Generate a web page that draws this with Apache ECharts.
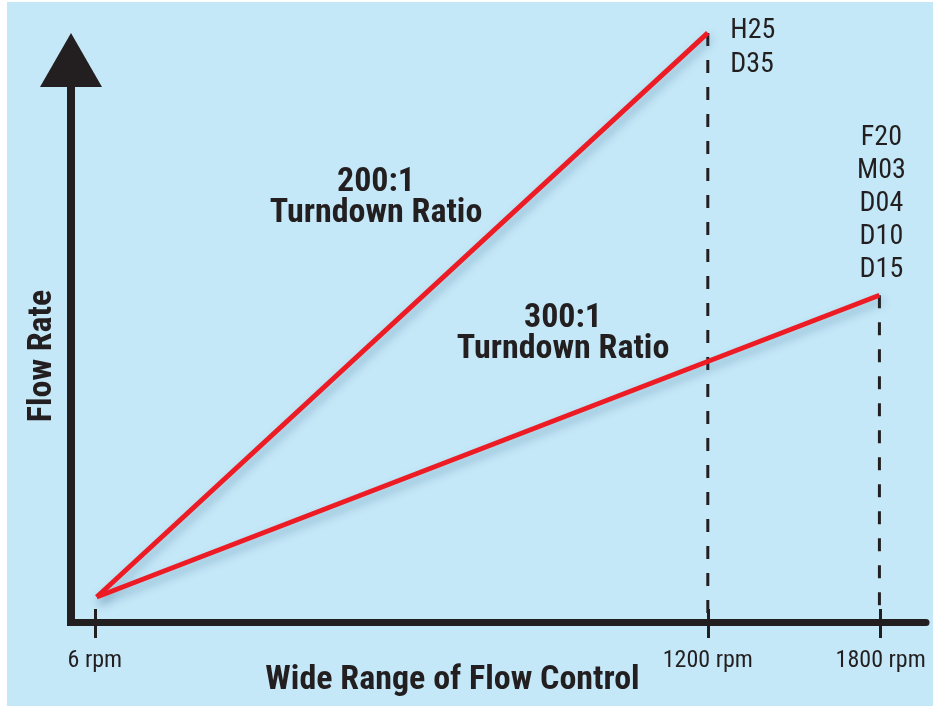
<!DOCTYPE html>
<html>
<head>
<meta charset="utf-8">
<title>Wide Range of Flow Control</title>
<script src="https://cdn.jsdelivr.net/npm/echarts@6/dist/echarts.min.js"></script>
<style>
  html, body { margin: 0; padding: 0; background: #fff; }
  #chart { width: 933px; height: 706px; }
</style>
</head>
<body>
<div id="chart"></div>
<script>
// schematic positions along the speed axis (6 rpm = 0, 1200 rpm = 100)
const tickValues = [0, 100, 128.2];
const tickLabels = ['6 rpm', '1200 rpm', '1800 rpm'];

// flow rate in relative units (200:1 line top = 100)
const ratio200 = [[0.3, 0], [100, 100]];
const ratio300 = [[0.3, 0], [128, 53.5]];

const models200 = ['H25', 'D35'];
const models300 = ['F20', 'M03', 'D04', 'D10', 'D15'];

const xMin = -3.9, xMax = 135.6;
const yMin = -4.43, yMax = 95.2;

const ink = '#231f20';
const red = '#ed1c24';
const font = "'Liberation Sans Narrow', 'Arial Narrow', 'Roboto Condensed', 'Liberation Sans', sans-serif";

const chart = echarts.init(document.getElementById('chart'));

const redLine = (name, data, models, labelOpt) => ({
  name: name,
  type: 'line',
  data: data.map((d, i) => i === data.length - 1
    ? { value: d, label: Object.assign({ show: true, formatter: models.join('\n') }, labelOpt) }
    : d),
  clip: false,
  symbol: 'circle',
  symbolSize: 1,
  showSymbol: true,
  itemStyle: { color: 'rgba(0,0,0,0)' },
  z: 5,
  lineStyle: {
    color: red, width: 5,
    shadowColor: 'rgba(30, 80, 120, 0.35)', shadowBlur: 10, shadowOffsetX: 3, shadowOffsetY: 5
  },
  label: { show: false, fontFamily: font, fontSize: 28, color: ink }
});

const dropLine = (pt) => ({
  type: 'line',
  data: [pt, [pt[0], yMin]],
  symbol: 'none',
  clip: false,
  silent: true,
  z: 4,
  lineStyle: { color: ink, width: 3, type: [13, 14] }
});

chart.setOption({
  backgroundColor: '#ffffff',
  animation: false,
  graphic: [
    { type: 'rect', left: 7, top: 2, z: -10, shape: { width: 926, height: 704 }, style: { fill: '#c5e8f8' } },
    {
      type: 'text', z: 10,
      style: {
        x: 376, y: 167, text: '200:1\nTurndown Ratio', align: 'center',
        font: 'bold 34px ' + font, lineHeight: 31, fill: ink
      }
    },
    {
      type: 'text', z: 10,
      style: {
        x: 563, y: 303, text: '300:1\nTurndown Ratio', align: 'center',
        font: 'bold 34px ' + font, lineHeight: 31, fill: ink
      }
    }
  ],
  grid: { left: 71, right: 7, top: 60, bottom: 84, outerBoundsMode: 'none' },
  xAxis: [
    {
      type: 'value', min: xMin, max: xMax,
      name: 'Wide Range of Flow Control',
      nameLocation: 'middle', nameGap: 41, nameMoveOverlap: false,
      nameTextStyle: { fontFamily: font, fontWeight: 'bold', fontSize: 34, color: ink, padding: [0, 92, 0, 0] },
      splitLine: { show: false },
      axisLine: { onZero: false, lineStyle: { color: ink, width: 7 } },
      axisTick: { customValues: tickValues, length: 16, lineStyle: { color: ink, width: 3 } },
      axisLabel: {
        customValues: tickValues, margin: 27,
        fontFamily: font, fontSize: 24, color: ink,
        formatter: (v) => tickLabels[tickValues.findIndex(t => Math.abs(t - v) < 1e-6)] || ''
      }
    },
    {
      type: 'value', min: xMin, max: xMax, position: 'bottom',
      splitLine: { show: false },
      axisLine: { show: false, onZero: false },
      axisTick: { customValues: tickValues, inside: true, length: 13, lineStyle: { color: ink, width: 3 } },
      axisLabel: { show: false }
    }
  ],
  yAxis: {
    type: 'value', min: yMin, max: yMax,
    name: 'Flow Rate',
    nameLocation: 'middle', nameGap: 12, nameRotate: 90, nameMoveOverlap: false,
    nameTextStyle: { fontFamily: font, fontWeight: 'bold', fontSize: 34, color: ink, padding: [0, 30, 0, 0] },
    splitLine: { show: false },
    axisTick: { show: false },
    axisLabel: { show: false },
    axisLine: {
      show: true,
      onZero: false,
      symbol: ['none', 'triangle'],
      symbolSize: [62, 54],
      lineStyle: { color: ink, width: 8, cap: 'square' }
    }
  },
  series: [
    dropLine(ratio200[1]),
    dropLine(ratio300[1]),
    redLine('200:1', ratio200, models200, { position: 'right', distance: 5, offset: [17, 15], lineHeight: 34, align: 'left' }),
    redLine('300:1', ratio300, models300, { position: 'top', distance: 8, offset: [2, 0], lineHeight: 33, align: 'center' })
  ]
});
</script>
</body>
</html>
